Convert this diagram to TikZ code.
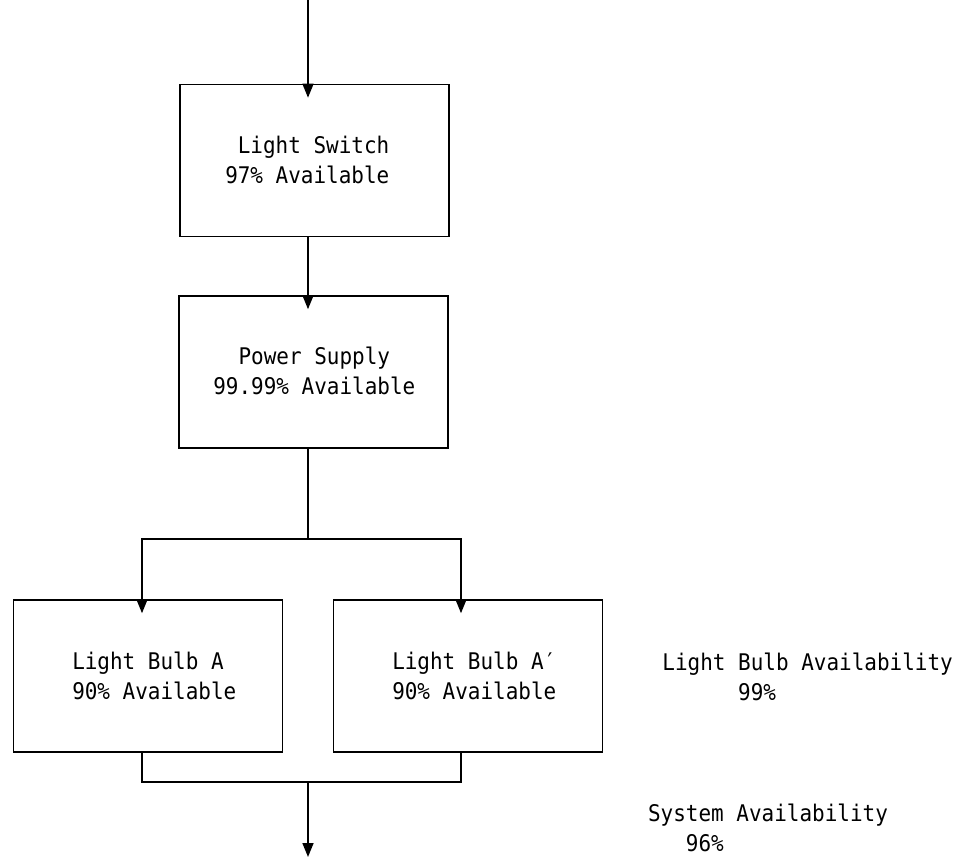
\documentclass[tikz,border=0pt]{standalone}
\usepackage{fontspec}
\setmonofont[FakeStretch=0.915]{DejaVu Sans Mono}
\usetikzlibrary{arrows.meta,positioning}

\tikzset{
  unit/.style={draw, line width=1.6bp, minimum width=269bp, minimum height=152bp, inner sep=0pt},
  lbl/.style={font=\ttfamily\fontsize{23}{30}\selectfont, inner sep=0pt},
  wire/.style={line width=1.6bp},
  flow/.style={line width=1.6bp, -{Triangle[length=14bp,width=11bp]}},
}

\begin{document}
\begin{tikzpicture}[x=1bp,y=-1bp]
      \useasboundingbox (0,0) rectangle (962,858);
      % Define coordinates
      \coordinate (in) at (308,0);
      \coordinate (fork) at (308,539);
      \coordinate (forkA) at (142,539);
      \coordinate (forkB) at (461,539);
      \coordinate (join) at (308,782);
      \coordinate (out) at (308,857);
      % Blocks
      \node[unit] (switch) at (314.5,160.5) {};
      \node[unit] (power) at (313.5,372) {};
      \node[unit] (bulbA) at (148,676) {};
      \node[unit] (bulbB) at (468,676) {};
      % Block texts
      \node[lbl, align=right] (switchtxt) at (307.3,160) {Light Switch\\97\% Available};
      \node[lbl, align=center] (powertxt) at (314.3,371) {Power Supply\\99.99\% Available};
      \node[lbl, align=left] (bulbAtxt) at (154.3,676) {Light Bulb A\\90\% Available};
      \node[lbl, align=left] (bulbBtxt) at (474.3,676) {Light Bulb A′\\90\% Available};
      % Series path
      \draw[flow, shorten >=-14bp] (in) -- (in |- switch.north);
      \draw[flow, shorten >=-14bp] (in |- switch.south) -- (in |- power.north);
      \draw[wire] (in |- power.south) -- (fork);
      % Parallel bulbs
      \draw[flow, shorten >=-14bp] (fork) -- (forkA) -- (forkA |- bulbA.north);
      \draw[flow, shorten >=-14bp] (fork) -- (forkB) -- (forkB |- bulbB.north);
      \draw[wire] (forkA |- bulbA.south) -- (forkA |- join) -- (forkB |- join) -- (forkB |- bulbB.south);
      \draw[flow] (join) -- (out);
      % Availability notes
      \node[lbl, align=left] (bulbavail) at (807.6,677) {Light Bulb Availability\\\hphantom{xxxxxx}99\%};
      \node[lbl, align=left] (sysavail) at (768,828) {System Availability\\\hphantom{xxx}96\%};
\end{tikzpicture}
\end{document}
